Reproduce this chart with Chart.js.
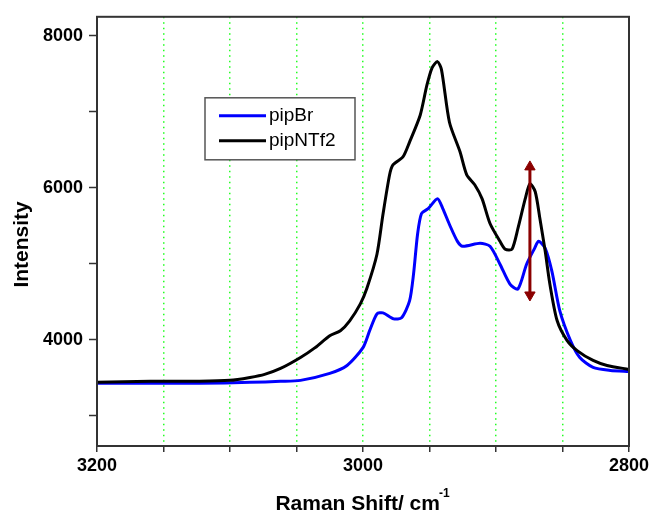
<!DOCTYPE html>
<html>
<head>
<meta charset="utf-8">
<script src="https://cdn.jsdelivr.net/npm/chart.js@4/dist/chart.umd.min.js"></script>
<style>
  html, body { margin: 0; padding: 0; background: #fff; }
  #wrap { width: 653px; height: 517px; }
</style>
</head>
<body>
<div id="wrap"><canvas id="chart" width="653" height="517"></canvas></div>
<script>
// wavenumbers (cm-1) and intensities
var brShift = [3200, 3160, 3123, 3085, 3062, 3047, 3025, 3012, 3000, 2995, 2989.5, 2985, 2977, 2971, 2965, 2962, 2959, 2956, 2951, 2944, 2940, 2935, 2929, 2925, 2912, 2904.5, 2897, 2889.5, 2883.5, 2877, 2871, 2868, 2863, 2858, 2852, 2844, 2837, 2827, 2814, 2800];
var brIntensity = [3425, 3425, 3425, 3438, 3451, 3464, 3556, 3660, 3895, 4118, 4340, 4353, 4274, 4288, 4510, 4863, 5385, 5660, 5725, 5856, 5725, 5516, 5294, 5229, 5268, 5229, 4993, 4732, 4667, 4993, 5202, 5294, 5202, 4902, 4379, 3987, 3765, 3634, 3595, 3582];

var ntfShift = [3200, 3160, 3123, 3100, 3085, 3074, 3062, 3047, 3036, 3025, 3017, 3010, 3002, 2997, 2989.5, 2985, 2980, 2977.5, 2970, 2965, 2957, 2952, 2948, 2944, 2941, 2935, 2927, 2922, 2916, 2910.5, 2904.5, 2897, 2893, 2888, 2883.5, 2878, 2874.5, 2870.5, 2867, 2863, 2859.5, 2854, 2846.5, 2839, 2827, 2816.5, 2800];
var ntfIntensity = [3438, 3451, 3451, 3464, 3503, 3543, 3621, 3765, 3895, 4052, 4118, 4248, 4471, 4680, 5124, 5647, 6170, 6300, 6405, 6601, 6954, 7346, 7581, 7660, 7555, 6862, 6470, 6170, 6039, 5856, 5529, 5294, 5189, 5189, 5464, 5856, 6052, 5947, 5595, 5163, 4732, 4248, 3987, 3856, 3726, 3660, 3608];

var seriesNames = ['pipBr', 'pipNTf2'];
var seriesColors = ['#0000ff', '#000000'];

// double headed arrow at the pipNTf2 peak
var arrowShift = [2874.5, 2874.5];
var arrowIntensity = [6274, 4588];

var xTicks = [3200, 3150, 3100, 3050, 3000, 2950, 2900, 2850, 2800];
var yTicks = [3000, 4000, 5000, 6000, 7000, 8000];

function toPoints(xs, ys) {
    var pts = [];
    for (var i = 0; i < xs.length; i++) {
        pts.push({x: xs[i], y: ys[i]});
    }
    return pts;
}

var frame = {
    id: 'frame',
    afterDatasetsDraw: function(chart) {
        var a = chart.chartArea;
        var ctx = chart.ctx;
        ctx.save();
        ctx.strokeStyle = '#333';
        ctx.lineWidth = 2;
        ctx.strokeRect(a.left, a.top, a.right - a.left, a.bottom - a.top);

        // legend box
        var lx = a.left + 108, ly = a.top + 81;
        ctx.fillStyle = '#fff';
        ctx.fillRect(lx, ly, 150, 62);
        ctx.strokeStyle = '#555';
        ctx.lineWidth = 1.5;
        ctx.strokeRect(lx, ly, 150, 62);
        ctx.font = '19px "Liberation Sans", Arial, sans-serif';
        ctx.textBaseline = 'middle';
        for (var i = 0; i < seriesNames.length; i++) {
            var yy = ly + 18 + i * 25;
            ctx.strokeStyle = seriesColors[i];
            ctx.lineWidth = 3;
            ctx.beginPath();
            ctx.moveTo(lx + 14, yy);
            ctx.lineTo(lx + 61, yy);
            ctx.stroke();
            ctx.fillStyle = '#000';
            ctx.fillText(seriesNames[i], lx + 64, yy);
        }
        ctx.restore();
    },
    afterDraw: function(chart) {
        var a = chart.chartArea;
        var ctx = chart.ctx;
        ctx.save();
        ctx.fillStyle = '#000';
        ctx.font = 'bold 21px "Liberation Sans", Arial, sans-serif';
        ctx.textBaseline = 'alphabetic';

        // x title with superscript
        var main = 'Raman Shift/ cm';
        var sup = '-1';
        var w1 = ctx.measureText(main).width;
        ctx.font = 'bold 12px "Liberation Sans", Arial, sans-serif';
        var w2 = ctx.measureText(sup).width;
        var sx = (a.left + a.right) / 2 - (w1 + w2) / 2;
        ctx.font = 'bold 21px "Liberation Sans", Arial, sans-serif';
        ctx.fillText(main, sx, 510);
        ctx.font = 'bold 12px "Liberation Sans", Arial, sans-serif';
        ctx.fillText(sup, sx + w1 - 1, 497);

        // y title
        ctx.font = 'bold 21px "Liberation Sans", Arial, sans-serif';
        ctx.translate(28, (a.top + a.bottom) / 2 + 13);
        ctx.rotate(-Math.PI / 2);
        ctx.textAlign = 'center';
        ctx.fillText('Intensity', 0, 0);
        ctx.restore();
    }
};

var ctx = document.getElementById('chart').getContext('2d');
var chart = new Chart(ctx, {
    type: 'line',
    data: {
        datasets: [{
            label: seriesNames[0],
            data: toPoints(brShift, brIntensity),
            borderColor: seriesColors[0],
            borderWidth: 3,
            pointRadius: 0,
            tension: 0.25,
            order: 2
        }, {
            label: seriesNames[1],
            data: toPoints(ntfShift, ntfIntensity),
            borderColor: seriesColors[1],
            borderWidth: 3,
            pointRadius: 0,
            tension: 0.25,
            order: 1
        }, {
            label: 'arrow',
            data: toPoints(arrowShift, arrowIntensity),
            borderColor: '#8b0000',
            backgroundColor: '#8b0000',
            borderWidth: 3,
            pointStyle: 'triangle',
            pointRadius: 6,
            pointBorderWidth: 1,
            rotation: [0, 180],
            order: 0
        }]
    },
    options: {
        responsive: false,
        animation: false,
        layout: {padding: {top: 14, right: 24, left: 0, bottom: 0}},
        plugins: {
            legend: {display: false},
            tooltip: {enabled: false}
        },
        scales: {
            x: {
                type: 'linear',
                reverse: true,
                min: 2800,
                max: 3200,
                afterBuildTicks: function(scale) {
                    scale.ticks = xTicks.map(function(v) { return {value: v}; });
                },
                afterFit: function(scale) { scale.height = 71; },
                ticks: {
                    color: '#000',
                    padding: 3,
                    maxRotation: 0,
                    autoSkip: false,
                    font: {family: '"Liberation Sans", Arial, sans-serif', size: 18, weight: 'bold'},
                    callback: function(v) { return v % 200 === 0 ? v : ''; }
                },
                grid: {
                    color: function(c) {
                        var v = c.tick ? c.tick.value : 0;
                        return (v === 3200 || v === 2800) ? 'rgba(0,0,0,0)' : '#22ff22';
                    },
                    lineWidth: 1.5,
                    tickColor: '#333',
                    tickLength: 6,
                    tickWidth: 1.5
                },
                border: {color: '#333', width: 2, dash: [1.5, 4]}
            },
            y: {
                type: 'linear',
                min: 2600,
                max: 8250,
                afterBuildTicks: function(scale) {
                    scale.ticks = yTicks.map(function(v) { return {value: v}; });
                },
                afterFit: function(scale) { scale.width = 97; },
                ticks: {
                    color: '#000',
                    padding: 6,
                    autoSkip: false,
                    font: {family: '"Liberation Sans", Arial, sans-serif', size: 18, weight: 'bold'},
                    callback: function(v) { return v % 2000 === 0 ? v : ''; }
                },
                grid: {
                    drawOnChartArea: false,
                    tickColor: '#333',
                    tickLength: 8,
                    tickWidth: 1.5
                },
                border: {color: '#333', width: 2}
            }
        }
    },
    plugins: [frame]
});
</script>
</body>
</html>
